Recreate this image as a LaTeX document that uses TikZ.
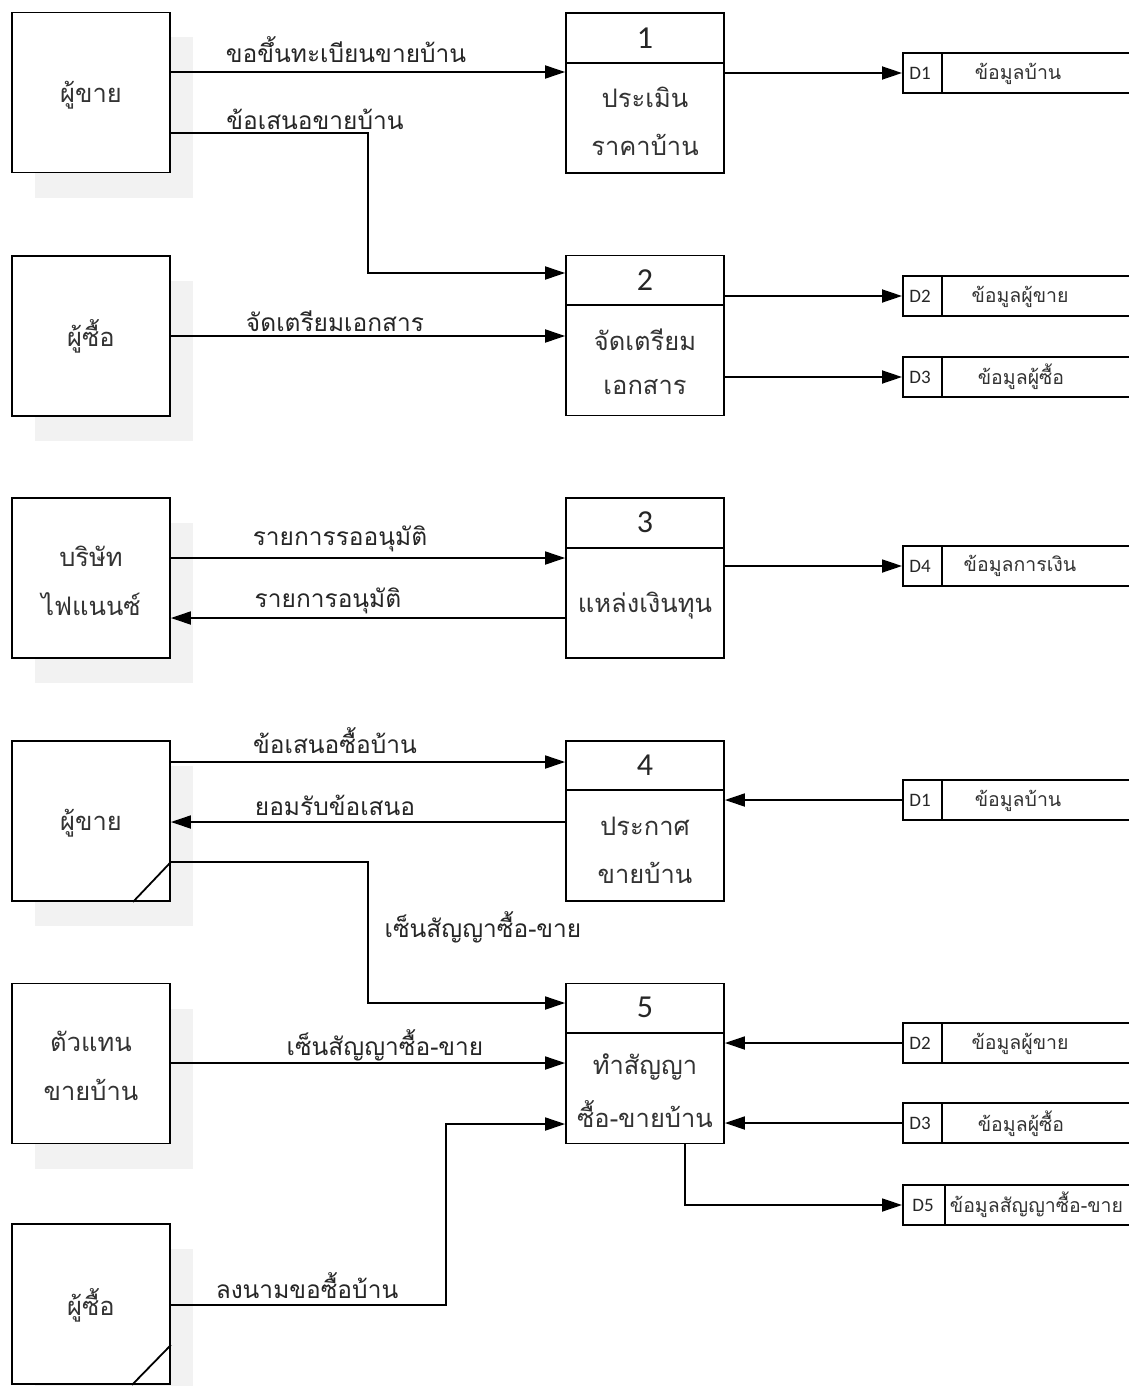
\documentclass[tikz,border=0pt]{standalone}
\usepackage{fontspec}
\newfontfamily\thaifont[Script=Thai]{Loma}
\newfontfamily\calfont{Carlito}
\usetikzlibrary{arrows.meta,shadows}
\begin{document}
\begin{tikzpicture}[x=1pt,y=-1pt,line width=1.8pt,
  ent/.style={draw,fill=white,minimum width=158pt,minimum height=160pt,inner sep=0pt,
    general shadow={shadow xshift=23pt,shadow yshift=-25pt,fill=black!5,opacity=1}},
  proc/.style={draw,fill=white,minimum width=158pt,minimum height=160pt,inner sep=0pt},
  store/.style={draw,minimum width=240pt,minimum height=40pt,inner sep=0pt,anchor=west},
  arr/.style={-{Triangle[length=20pt,width=13pt]}},
  lbl/.style={font=\thaifont\fontsize{24.5}{28}\selectfont,text=black!85,inner sep=0pt},
  nm/.style={font=\thaifont\fontsize{25.5}{30}\selectfont,text=black!80,inner sep=0pt,align=center},
  num/.style={font=\calfont\fontsize{32}{36}\selectfont,text=black!85,inner sep=0pt},
  sid/.style={font=\calfont\fontsize{19}{22}\selectfont,text=black!85,inner sep=0pt},
  stxt/.style={font=\thaifont\fontsize{19.5}{22}\selectfont,text=black!80,inner sep=0pt}]
\clip (0,0) rectangle (1129,1386);
\fill[white] (0,0) rectangle (1129,1386);
% external entities
\node[ent] (e1) at (91,92.5) {};
\node[ent] (e2) at (91,336) {};
\node[ent] (e3) at (91,578) {};
\node[ent] (e4) at (91,821) {};
\node[ent] (e5) at (91,1063.5) {};
\node[ent] (e6) at (91,1304) {};
\node[nm] (t1) at (91,95) {ผู้ขาย};
\node[nm] (t2) at (91,336) {ผู้ซื้อ};
\node[nm] (t3a) at (91,556) {บริษัท};
\node[nm] (t3b) at (91,604) {ไฟแนนซ์};
\node[nm] (t4) at (91,823) {ผู้ขาย};
\node[nm] (t5a) at (91,1041) {ตัวแทน};
\node[nm] (t5b) at (91,1090) {ขายบ้าน};
\node[nm] (t6) at (91,1305) {ผู้ซื้อ};
\draw (e4.east|-0,862) -- (e4.south-|133,0);
\draw (e6.east|-0,1345) -- (e6.south-|132,0);
% processes
\node[proc] (p1) at (645,93) {};
\node[proc] (p2) at (645,335.5) {};
\node[proc] (p3) at (645,578) {};
\node[proc] (p4) at (645,821) {};
\node[proc] (p5) at (645,1063.5) {};
\draw (p1.west|-0,63) -- (p1.east|-0,63);
\draw (p2.west|-0,305) -- (p2.east|-0,305);
\draw (p3.west|-0,548) -- (p3.east|-0,548);
\draw (p4.west|-0,790) -- (p4.east|-0,790);
\draw (p5.west|-0,1033) -- (p5.east|-0,1033);
\node[num] (n1) at (645,38) {1};
\node[num] (n2) at (645,280) {2};
\node[num] (n3) at (645,522) {3};
\node[num] (n4) at (645,765) {4};
\node[num] (n5) at (645,1007) {5};
\node[nm] (q1a) at (645,97) {ประเมิน};
\node[nm] (q1b) at (645,145) {ราคาบ้าน};
\node[nm] (q2a) at (645,340) {จัดเตรียม};
\node[nm] (q2b) at (645,387) {เอกสาร};
\node[nm] (q3) at (645,606) {แหล่งเงินทุน};
\node[nm] (q4a) at (645,826) {ประกาศ};
\node[nm] (q4b) at (645,873) {ขายบ้าน};
\node[nm] (q5a) at (645,1067) {ทำสัญญา};
\node[nm] (q5b) at (645,1114) {ซื้อ-ขายบ้าน};
% data stores
\node[store] (d1a) at (902,73) {};
\node[store] (d2a) at (902,296) {};
\node[store] (d3a) at (902,377) {};
\node[store] (d4) at (902,566) {};
\node[store] (d1b) at (902,800) {};
\node[store] (d2b) at (902,1043) {};
\node[store] (d3b) at (902,1123) {};
\node[store] (d5) at (902,1205) {};
\foreach \s in {d1a,d2a,d3a,d4,d1b,d2b,d3b}{
  \draw ([xshift=40pt]\s.north west) -- ([xshift=40pt]\s.south west);}
\draw ([xshift=43pt]d5.north west) -- ([xshift=43pt]d5.south west);
\node[sid] (i1a) at (920,73) {D1};
\node[sid] (i2a) at (920,296) {D2};
\node[sid] (i3a) at (920,377) {D3};
\node[sid] (i4) at (920,566) {D4};
\node[sid] (i1b) at (920,800) {D1};
\node[sid] (i2b) at (920,1043) {D2};
\node[sid] (i3b) at (920,1123) {D3};
\node[sid] (i5) at (923,1205) {D5};
\node[stxt] (s1a) at (1018,74) {ข้อมูลบ้าน};
\node[stxt] (s2a) at (1020,297) {ข้อมูลผู้ขาย};
\node[stxt] (s3a) at (1021,377) {ข้อมูลผู้ซื้อ};
\node[stxt] (s4) at (1020,566) {ข้อมูลการเงิน};
\node[stxt] (s1b) at (1018,801) {ข้อมูลบ้าน};
\node[stxt] (s2b) at (1020,1044) {ข้อมูลผู้ขาย};
\node[stxt] (s3b) at (1021,1124) {ข้อมูลผู้ซื้อ};
\node[stxt,anchor=west] (s5) at (949,1205) {ข้อมูลสัญญาซื้อ-ขาย};
% flows
\draw[arr] (e1.east|-0,72) -- (p1.west|-0,72);
\draw[arr] (e1.east|-0,133) -| (368,273) -- (p2.west|-0,273);
\draw[arr] (p1.east|-0,73) -- (d1a.west);
\draw[arr] (e2.east|-0,336) -- (p2.west|-0,336);
\draw[arr] (p2.east|-0,296) -- (d2a.west);
\draw[arr] (p2.east|-0,377) -- (d3a.west);
\draw[arr] (e3.east|-0,558) -- (p3.west|-0,558);
\draw[arr] (p3.west|-0,618) -- (e3.east|-0,618);
\draw[arr] (p3.east|-0,566) -- (d4.west);
\draw[arr] (e4.east|-0,762) -- (p4.west|-0,762);
\draw[arr] (p4.west|-0,822) -- (e4.east|-0,822);
\draw[arr] (d1b.west) -- (p4.east|-0,800);
\draw[arr] (e4.east|-0,862) -| (368,1003) -- (p5.west|-0,1003);
\draw[arr] (e5.east|-0,1063) -- (p5.west|-0,1063);
\draw[arr] (d2b.west) -- (p5.east|-0,1043);
\draw[arr] (d3b.west) -- (p5.east|-0,1123);
\draw[arr] (e6.east|-0,1305) -| (446,1124) -- (p5.west|-0,1124);
\draw[arr] (p5.south-|685,0) |- (d5.west);
% flow labels
\node[lbl] (l1) at (346,50) {ขอขึ้นทะเบียนขายบ้าน};
\node[lbl] (l2) at (315,119) {ข้อเสนอขายบ้าน};
\node[lbl] (l3) at (335,321) {จัดเตรียมเอกสาร};
\node[lbl] (l4) at (340,539) {รายการรออนุมัติ};
\node[lbl] (l5) at (328,601) {รายการอนุมัติ};
\node[lbl] (l6) at (335,741) {ข้อเสนอซื้อบ้าน};
\node[lbl] (l7) at (335,805) {ยอมรับข้อเสนอ};
\node[lbl] (l8) at (483,927) {เซ็นสัญญาซื้อ-ขาย};
\node[lbl] (l9) at (385,1045) {เซ็นสัญญาซื้อ-ขาย};
\node[lbl] (l10) at (307,1286) {ลงนามขอซื้อบ้าน};
\end{tikzpicture}
\end{document}
